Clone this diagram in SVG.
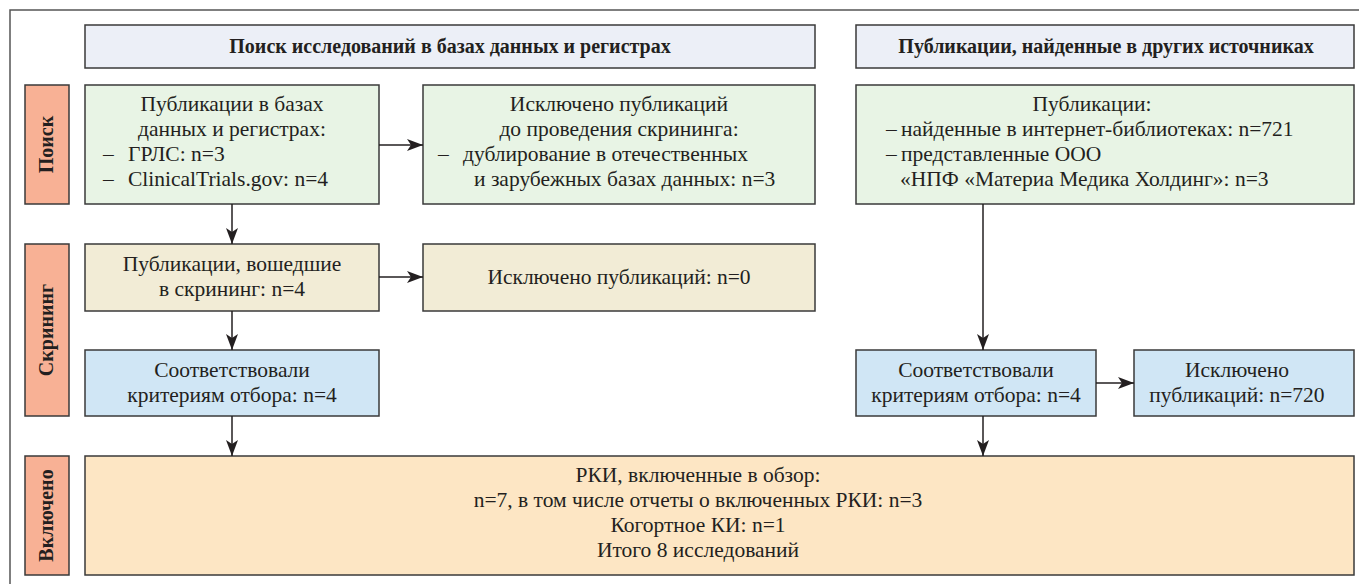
<svg xmlns="http://www.w3.org/2000/svg" width="1359" height="584" viewBox="0 0 1359 584">
<style>
.box{stroke:#3a3a3a;stroke-width:1.5}
.hdr{fill:#eceff7}
.grn{fill:#e8f4e5}
.beg{fill:#f2ecd6}
.blu{fill:#d0e6f5}
.org{fill:#fde6c4}
.lab{fill:#f8b195}
.t{font-family:"Liberation Serif","Times New Roman",serif;font-size:21.5px;fill:#231f20}
.c{text-anchor:middle}
.b{font-weight:bold;font-size:20px}
.v{font-weight:bold;font-size:20px;text-anchor:middle}
.ln{stroke:#231f20;stroke-width:1.5;fill:none}
</style>
<defs>
<marker id="ah" viewBox="0 0 16 12" refX="16" refY="6" markerWidth="16" markerHeight="12" markerUnits="userSpaceOnUse" orient="auto">
<path d="M0,0 L16,6 L0,12 L4,6 Z" fill="#231f20"/>
</marker>
</defs>
<rect x="0" y="0" width="1359" height="584" fill="#ffffff"/>
<rect x="10" y="10" width="1360" height="590" fill="none" stroke="#555" stroke-width="1.5"/>

<g id="hdr1"><rect class="box hdr" x="85" y="25" width="730" height="43"/><text class="t b c" x="450" y="53">Поиск исследований в базах данных и регистрах</text></g>
<g id="hdr2"><rect class="box hdr" x="856" y="25" width="498" height="43"/><text class="t b c" x="1106" y="53">Публикации, найденные в других источниках</text></g>

<g id="lab-poisk"><rect class="box lab" x="25" y="85" width="44" height="119"/><text class="t v" transform="translate(53,144.5) rotate(-90)">Поиск</text></g>
<g id="lab-skrining"><rect class="box lab" x="25" y="244" width="44" height="172"/><text class="t v" transform="translate(53,330) rotate(-90)">Скрининг</text></g>
<g id="lab-vkl"><rect class="box lab" x="25" y="456" width="44" height="119"/><text class="t v" transform="translate(53,515.5) rotate(-90)">Включено</text></g>

<g id="n-db"><rect class="box grn" x="85" y="85" width="294" height="119"/>
<text class="t c" x="232" y="111">Публикации в базах</text>
<text class="t c" x="232" y="136">данных и регистрах:</text>
<text class="t" x="103" y="161">–</text><text class="t" x="128" y="161">ГРЛС: n=3</text>
<text class="t" x="103" y="186">–</text><text class="t" x="128" y="186">ClinicalTrials.gov: n=4</text>
</g>
<g id="n-excl1"><rect class="box grn" x="423" y="85" width="392" height="119"/>
<text class="t c" x="619" y="111">Исключено публикаций</text>
<text class="t c" x="619" y="136">до проведения скрининга:</text>
<text class="t" x="438" y="161">–</text><text class="t" x="463" y="161">дублирование в отечественных</text>
<text class="t" x="474" y="186">и зарубежных базах данных: n=3</text>
</g>
<g id="n-other"><rect class="box grn" x="856" y="85" width="498" height="119"/>
<text class="t c" x="1092" y="111">Публикации:</text>
<text class="t" x="886" y="136">–</text><text class="t" x="901" y="136">найденные в интернет-библиотеках: n=721</text>
<text class="t" x="886" y="161">–</text><text class="t" x="901" y="161">представленные ООО</text>
<text class="t" x="900" y="186">«НПФ «Материа Медика Холдинг»: n=3</text>
</g>
<g id="n-screen"><rect class="box beg" x="85" y="244" width="294" height="67"/>
<text class="t c" x="232" y="271">Публикации, вошедшие</text>
<text class="t c" x="232" y="296">в скрининг: n=4</text>
</g>
<g id="n-excl0"><rect class="box beg" x="423" y="244" width="392" height="67"/>
<text class="t c" x="619" y="284">Исключено публикаций: n=0</text>
</g>
<g id="n-elig1"><rect class="box blu" x="85" y="350" width="294" height="66"/>
<text class="t c" x="232" y="377">Соответствовали</text>
<text class="t c" x="232" y="402">критериям отбора: n=4</text>
</g>
<g id="n-elig2"><rect class="box blu" x="856" y="350" width="240" height="66"/>
<text class="t c" x="976" y="377">Соответствовали</text>
<text class="t c" x="976" y="402">критериям отбора: n=4</text>
</g>
<g id="n-excl720"><rect class="box blu" x="1134" y="350" width="220" height="66"/>
<text class="t c" x="1237" y="377">Исключено</text>
<text class="t c" x="1237" y="402">публикаций: n=720</text>
</g>
<g id="n-incl"><rect class="box org" x="85" y="456" width="1269" height="119"/>
<text class="t c" x="698" y="482">РКИ, включенные в обзор:</text>
<text class="t c" x="698" y="507">n=7, в том числе отчеты о включенных РКИ: n=3</text>
<text class="t c" x="698" y="532">Когортное КИ: n=1</text>
<text class="t c" x="698" y="557">Итого 8 исследований</text>
</g>

<g id="connectors">
<line class="ln" x1="232" y1="204" x2="232" y2="244" marker-end="url(#ah)"/>
<line class="ln" x1="379" y1="145" x2="423" y2="145" marker-end="url(#ah)"/>
<line class="ln" x1="379" y1="277" x2="423" y2="277" marker-end="url(#ah)"/>
<line class="ln" x1="232" y1="311" x2="232" y2="350" marker-end="url(#ah)"/>
<line class="ln" x1="232" y1="416" x2="232" y2="456" marker-end="url(#ah)"/>
<line class="ln" x1="983" y1="204" x2="983" y2="350" marker-end="url(#ah)"/>
<line class="ln" x1="983" y1="416" x2="983" y2="456" marker-end="url(#ah)"/>
<line class="ln" x1="1096" y1="383" x2="1134" y2="383" marker-end="url(#ah)"/>
</g>
</svg>
